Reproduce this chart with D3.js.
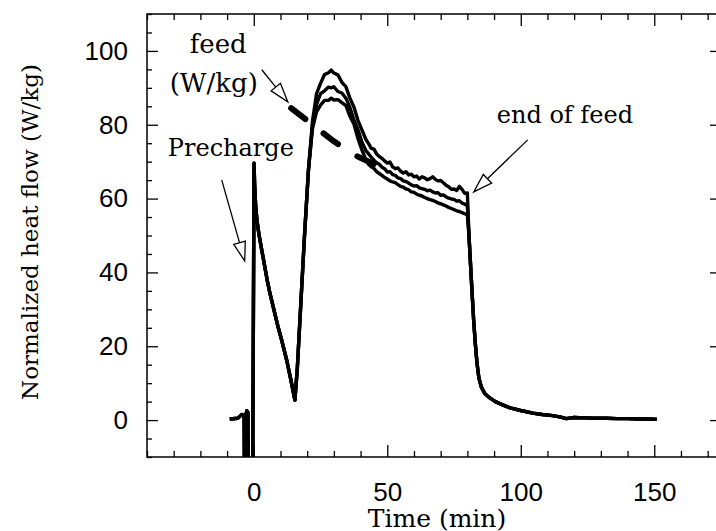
<!DOCTYPE html>
<html lang="en">
<head>
<meta charset="UTF-8">
<title>Normalized heat flow</title>
<script src="https://d3js.org/d3.v7.min.js"></script>
<style>
  body { margin: 0; background: #fff; }
  .axis .domain { display: none; }
  .axis line { stroke: #000; stroke-width: 1.3px; }
  .axis text { font-family: "Liberation Sans", Arial, sans-serif; font-size: 26px; fill: #000; }
  .serif { font-family: "DejaVu Serif", serif; fill: #000; }
  .frame { fill: none; stroke: #000; stroke-width: 1.5px; }
  .run { fill: none; stroke: #000; stroke-width: 3.4px; stroke-linejoin: round; }
  .feed { fill: none; stroke: #000; stroke-width: 6px; stroke-linecap: round; stroke-dasharray: 18 23; }
  .arrow { stroke: #000; stroke-width: 1.3px; fill: #fff; }
</style>
</head>
<body>
<svg width="716" height="531"></svg>
<script>
  // precharge, spike and first decay, then the rise (same for all runs)
  const headTime = [-9, -6, -4.5, -3.6, -3.5, -3.3, -3.2, -2.6, -2.2, -2.1, -0.6, -0.4, 0.1, 0.3, 0.7, 1.2, 2, 3, 4, 5, 6, 7.5, 9, 10.5, 12.4, 14, 15.4, 16.3, 17.5, 19, 20.5];
  const headFlow = [0.3, 0.5, 1.5, 1.2, -14, -14, 0.8, 2.5, 2, -14, -14, -14, 69.6, 64, 58, 54, 50, 46, 42, 38, 34.5, 30, 25.5, 21.5, 16, 10.5, 5.4, 14, 30, 50, 68];

  // feeding period, one array per run
  const runTime = [22, 23.5, 25, 26.5, 28, 29, 30, 31.5, 33, 34.5, 36, 37.5, 39, 40.5,
    42, 43, 44, 45, 46, 47, 48, 49, 50, 51, 52, 53, 54, 55, 56, 57, 58, 59, 60, 61,
    62, 63, 64, 65, 66, 67, 68, 69, 70, 71, 72, 73, 74, 75, 76, 77, 78, 79, 80];
  const flowA = [81, 88.4, 91.2, 93.6, 94.1, 94.8, 94, 93.5, 91.5, 90.3, 87.2, 84.8, 81.2, 78.6,
    76, 74.9, 73.6, 73.4, 72.1, 71.4, 70.9, 70.2, 69.6, 69.9, 68.6, 68.1, 68.3, 67.4, 66.9, 67.3, 66.4, 66.6, 65.9, 66.1,
    65.3, 65.9, 65.6, 65.1, 65.4, 65.9, 65.2, 64.8, 64.9, 64.3, 63.6, 63.2, 62.5, 62.6, 62.2, 63.3, 62.5, 61.4, 61.5];
  const flowB = [80, 85.5, 88.4, 89.2, 90.2, 90, 90.3, 89, 88.6, 87.2, 84.7, 81.3, 78.7, 75.3,
    73, 72.1, 71.2, 70.4, 69.7, 69.3, 68.5, 68.1, 67.2, 67.3, 66.5, 66.3, 65.6, 65.4, 64.8, 64.6, 64.2, 63.7, 63.4, 63.5,
    62.9, 62.7, 62.5, 62.1, 62.3, 61.8, 61.5, 61.6, 60.9, 61, 60.5, 60.1, 59.9, 59.8, 59.3, 59.4, 58.8, 58.5, 58];
  const flowC = [79, 83.5, 85.3, 86.6, 86.6, 87.2, 86.7, 86.8, 86, 85.2, 82.3, 80.2, 76.3, 73.2,
    70.5, 69.3, 68.6, 68.2, 67.3, 66.8, 66.3, 65.7, 65.3, 64.8, 64.5, 64.3, 63.8, 63.3, 63.1, 62.6, 62.4, 61.8, 61.7, 61.2,
    60.9, 60.7, 60.3, 60, 59.7, 59.5, 59.2, 58.8, 58.6, 58.3, 58, 57.6, 57.3, 57, 56.7, 56.5, 56.2, 55.9, 55.6];

  // after the end of feed (same for all runs)
  const tailTime = [80.6, 81.2, 81.8, 82.4, 83, 83.6, 84.3, 85.2, 86.5, 88.4, 90.5, 93, 96, 100, 104.5, 108, 112, 115, 117, 120, 124, 128, 132, 136, 140, 144, 148, 151];
  const tailFlow = [50, 42, 34, 26.5, 20.5, 15.5, 11.5, 9, 7.2, 6, 5, 4.2, 3.3, 2.6, 1.9, 1.5, 1.2, 0.8, 0.4, 0.7, 0.6, 0.5, 0.5, 0.4, 0.4, 0.3, 0.3, 0.2];

  // feed rate (dashed)
  const feedTime = [14, 22, 30, 38, 46];
  const feedFlow = [84.5, 80, 75.5, 71.7, 69];

  const xMajor = [0, 50, 100, 150];
  const yMajor = [0, 20, 40, 60, 80, 100];

  const svg = d3.select("svg");
  const x = d3.scaleLinear().domain([-40, 175]).range([147, 721]);
  const y = d3.scaleLinear().domain([-10, 110]).range([457, 14]);

  svg.append("clipPath").attr("id", "plot")
    .append("rect")
    .attr("x", x(-40)).attr("y", y(110))
    .attr("width", x(175) - x(-40)).attr("height", y(-10) - y(110));

  // build the three runs from the shared pieces
  const head = headTime.map((t, i) => [t, headFlow[i]]);
  const tail = tailTime.map((t, i) => [t, tailFlow[i]]);
  const runs = [flowA, flowB, flowC].map(vals =>
    head.concat(runTime.map((t, i) => [t, vals[i]]), tail));

  const line = d3.line().x(d => x(d[0])).y(d => y(d[1]));
  const plot = svg.append("g").attr("clip-path", "url(#plot)");

  plot.selectAll(".run")
    .data(runs)
    .enter().append("path")
    .attr("class", "run")
    .attr("d", line);

  plot.append("path")
    .attr("class", "feed")
    .attr("d", line(feedTime.map((t, i) => [t, feedFlow[i]])));

  // axes, ticks pointing inwards on all four sides
  const xMinor = d3.range(-40, 176, 10).filter(v => !xMajor.includes(v));
  const yMinor = d3.range(-10, 111, 5).filter(v => !yMajor.includes(v));

  svg.append("g").attr("class", "axis")
    .attr("transform", `translate(0,${y(-10)})`)
    .call(d3.axisBottom(x).tickValues(xMajor).tickSize(-12).tickPadding(26));
  svg.append("g").attr("class", "axis")
    .attr("transform", `translate(0,${y(-10)})`)
    .call(d3.axisBottom(x).tickValues(xMinor).tickSize(-6).tickFormat(""));
  svg.append("g").attr("class", "axis")
    .attr("transform", `translate(0,${y(110)})`)
    .call(d3.axisTop(x).tickValues(xMajor).tickSize(-12).tickFormat(""));
  svg.append("g").attr("class", "axis")
    .attr("transform", `translate(0,${y(110)})`)
    .call(d3.axisTop(x).tickValues(xMinor).tickSize(-6).tickFormat(""));

  svg.append("g").attr("class", "axis")
    .attr("transform", `translate(${x(-40)},0)`)
    .call(d3.axisLeft(y).tickValues(yMajor).tickSize(-11).tickPadding(19));
  svg.append("g").attr("class", "axis")
    .attr("transform", `translate(${x(-40)},0)`)
    .call(d3.axisLeft(y).tickValues(yMinor).tickSize(-5).tickFormat(""));
  svg.append("g").attr("class", "axis")
    .attr("transform", `translate(${x(175)},0)`)
    .call(d3.axisRight(y).tickValues(yMajor).tickSize(-11).tickFormat(""));
  svg.append("g").attr("class", "axis")
    .attr("transform", `translate(${x(175)},0)`)
    .call(d3.axisRight(y).tickValues(yMinor).tickSize(-5).tickFormat(""));

  svg.append("rect")
    .attr("class", "frame")
    .attr("x", x(-40)).attr("y", y(110))
    .attr("width", x(175) - x(-40)).attr("height", y(-10) - y(110));

  // axis titles
  svg.append("text")
    .attr("class", "serif")
    .attr("transform", "translate(38,232) rotate(-90)")
    .attr("text-anchor", "middle")
    .style("font-size", "23px")
    .text("Normalized heat flow (W/kg)");

  svg.append("text")
    .attr("class", "serif")
    .attr("x", 437).attr("y", 527)
    .attr("text-anchor", "middle")
    .style("font-size", "25px")
    .text("Time (min)");

  // annotations, placed in data units
  const notes = [
    { text: "feed", t: -24, v: 99.5, size: 26 },
    { text: "(W/kg)", t: -31.5, v: 88.9, size: 26 },
    { text: "Precharge", t: -32.2, v: 71.5, size: 24 },
    { text: "end of feed", t: 91, v: 80.5, size: 24 }
  ];
  svg.selectAll(".note")
    .data(notes)
    .enter().append("text")
    .attr("class", "serif note")
    .attr("x", d => x(d.t))
    .attr("y", d => y(d.v))
    .style("font-size", d => d.size + "px")
    .text(d => d.text);

  const arrows = [
    { from: [3.0, 94.9], to: [12.7, 86.2] },
    { from: [-12, 65], to: [-3.4, 43.1] },
    { from: [102.6, 75.9], to: [82.4, 61.8] }
  ];
  arrows.forEach(a => {
    const x1 = x(a.from[0]), y1 = y(a.from[1]);
    const x2 = x(a.to[0]), y2 = y(a.to[1]);
    const ang = Math.atan2(y2 - y1, x2 - x1);
    const len = 19, half = 6;
    const bx = x2 - len * Math.cos(ang), by = y2 - len * Math.sin(ang);
    svg.append("line")
      .attr("class", "arrow")
      .attr("x1", x1).attr("y1", y1).attr("x2", bx).attr("y2", by);
    const pts = [
      [x2, y2],
      [bx + half * Math.sin(ang), by - half * Math.cos(ang)],
      [bx - half * Math.sin(ang), by + half * Math.cos(ang)]
    ];
    svg.append("polygon")
      .attr("class", "arrow")
      .attr("points", pts.map(p => p.join(",")).join(" "));
  });
</script>
</body>
</html>
